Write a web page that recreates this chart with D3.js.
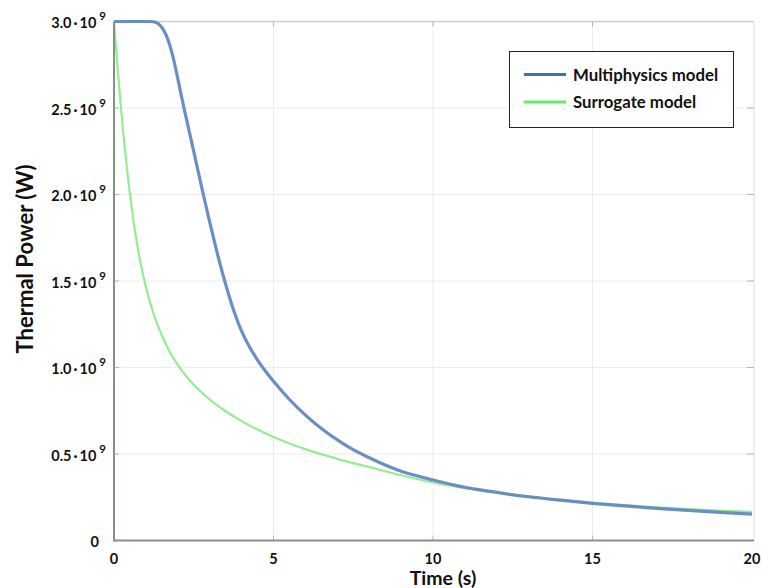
<!DOCTYPE html>
<html>
<head>
<meta charset="utf-8">
<script src="https://cdn.jsdelivr.net/npm/d3@7/dist/d3.min.js"></script>
<style>
  html, body { margin: 0; padding: 0; background: #fff; }
  svg { display: block; }
  text { font-family: Lato, "Open Sans", "Liberation Sans", sans-serif; font-weight: 700; fill: #111; }
</style>
</head>
<body>
<svg id="chart" width="761" height="588"></svg>
<script>
// Thermal power (W) over time (s) for the two models
const multiTime  = [0, 1.0, 1.15, 1.3, 1.4, 1.5, 1.6, 1.7, 1.8, 1.9, 2.0, 2.1, 2.2, 2.4, 2.6, 2.8, 3.0, 3.2, 3.4, 3.6, 3.8, 4.0, 4.25, 4.5, 4.75, 5.0, 5.5, 6.0, 6.5, 7.0, 7.5, 8.0, 9.0, 10, 11, 12, 13, 14, 15, 16, 17, 18, 19, 20];
const multiPower = [3.0e9, 3.0e9, 3.0e9, 2.996e9, 2.985e9, 2.965e9, 2.935e9, 2.89e9, 2.83e9, 2.755e9, 2.67e9, 2.58e9, 2.495e9, 2.33e9, 2.165e9, 2.0e9, 1.84e9, 1.688e9, 1.547e9, 1.418e9, 1.305e9, 1.21e9, 1.118e9, 1.043e9, 0.978e9, 0.92e9, 0.815e9, 0.725e9, 0.648e9, 0.582e9, 0.525e9, 0.478e9, 0.40e9, 0.35e9, 0.308e9, 0.278e9, 0.253e9, 0.233e9, 0.215e9, 0.2e9, 0.186e9, 0.174e9, 0.163e9, 0.153e9];

const surrTime  = [0, 0.1, 0.2, 0.3, 0.4, 0.5, 0.6, 0.7, 0.8, 0.9, 1.0, 1.25, 1.5, 1.75, 2.0, 2.5, 3.0, 3.5, 4.0, 4.5, 5.0, 5.5, 6.0, 6.5, 7.0, 7.5, 8.0, 9.0, 10, 11, 12, 13, 14, 15, 16, 17, 18, 19, 20];
const surrPower = [3.0e9, 2.76e9, 2.54e9, 2.34e9, 2.16e9, 2.0e9, 1.86e9, 1.74e9, 1.635e9, 1.545e9, 1.465e9, 1.305e9, 1.185e9, 1.09e9, 1.015e9, 0.9e9, 0.815e9, 0.747e9, 0.69e9, 0.641e9, 0.598e9, 0.561e9, 0.528e9, 0.499e9, 0.472e9, 0.447e9, 0.424e9, 0.377e9, 0.335e9, 0.302e9, 0.276e9, 0.254e9, 0.235e9, 0.218e9, 0.204e9, 0.192e9, 0.182e9, 0.173e9, 0.165e9];

const xTicks = [0, 5, 10, 15, 20];
const yTicks = [0, 0.5e9, 1.0e9, 1.5e9, 2.0e9, 2.5e9, 3.0e9];

const seriesNames  = ["Multiphysics model", "Surrogate model"];
const seriesColors = ["#6289c0", "#94ec94"];
const legendColors = ["#3b74ae", "#5ff05f"];

const svg = d3.select("#chart");
const plotLeft = 114, plotRight = 752, plotTop = 21.5, plotBottom = 540.5;

const x = d3.scaleLinear().domain([0, 20]).range([plotLeft, plotRight]);
const y = d3.scaleLinear().domain([0, 3.0e9]).range([plotBottom, plotTop]);

svg.append("rect").attr("width", 761).attr("height", 588).attr("fill", "#fff");

// grid
const grid = svg.append("g");
grid.selectAll(".gx").data(xTicks.slice(1, -1)).join("line")
  .attr("x1", d => x(d)).attr("x2", d => x(d))
  .attr("y1", plotTop).attr("y2", plotBottom)
  .attr("stroke", "#ececec").attr("stroke-width", 1);
grid.selectAll(".gy").data(yTicks.slice(1, -1)).join("line")
  .attr("x1", plotLeft).attr("x2", plotRight + 2)
  .attr("y1", d => y(d)).attr("y2", d => y(d))
  .attr("stroke", "#ececec").attr("stroke-width", 1);

// frame: top and right borders
svg.append("line").attr("x1", plotLeft).attr("x2", plotRight + 2).attr("y1", plotTop).attr("y2", plotTop)
  .attr("stroke", "#cfcfcf").attr("stroke-width", 1.5);
svg.append("line").attr("x1", plotRight + 2).attr("x2", plotRight + 2).attr("y1", plotTop).attr("y2", plotBottom)
  .attr("stroke", "#dedede").attr("stroke-width", 1);

// inner tick marks
const tk = svg.append("g").attr("stroke", "#b5b5b5").attr("stroke-width", 1);
tk.selectAll(".tb").data(xTicks.slice(1, -1)).join("line")
  .attr("x1", d => x(d)).attr("x2", d => x(d)).attr("y1", plotBottom).attr("y2", plotBottom - 5);
tk.selectAll(".tt").data(xTicks.slice(1, -1)).join("line")
  .attr("x1", d => x(d)).attr("x2", d => x(d)).attr("y1", plotTop).attr("y2", plotTop + 5);
tk.selectAll(".tl").data(yTicks.slice(1, -1)).join("line")
  .attr("x1", plotLeft).attr("x2", plotLeft + 5).attr("y1", d => y(d)).attr("y2", d => y(d));
tk.selectAll(".tr").data(yTicks.slice(1, -1)).join("line")
  .attr("x1", plotRight + 2).attr("x2", plotRight - 5).attr("y1", d => y(d)).attr("y2", d => y(d));

// curves
const multi = multiTime.map((t, i) => [t, multiPower[i]]);
const surr = surrTime.map((t, i) => [t, surrPower[i]]);
const line = d3.line().x(d => x(d[0])).y(d => y(d[1])).curve(d3.curveMonotoneX);

svg.append("path").datum(surr).attr("d", line)
  .attr("fill", "none").attr("stroke", seriesColors[1]).attr("stroke-width", 2.2);
svg.append("path").datum(multi).attr("d", line)
  .attr("fill", "none").attr("stroke", seriesColors[0]).attr("stroke-width", 3.2).attr("stroke-opacity", 0.95);

// axis lines
svg.append("line").attr("x1", plotLeft).attr("x2", plotLeft).attr("y1", plotTop).attr("y2", plotBottom + 1)
  .attr("stroke", "#7f957f").attr("stroke-width", 2);
svg.append("line").attr("x1", plotLeft).attr("x2", plotRight + 2).attr("y1", plotBottom).attr("y2", plotBottom)
  .attr("stroke", "#8c8c8c").attr("stroke-width", 2);

// x tick labels
svg.selectAll(".xl").data(xTicks).join("text")
  .attr("x", d => x(d)).attr("y", plotBottom + 23)
  .attr("text-anchor", "middle").attr("font-size", 14.5).text(d => d);

// y tick labels in power-of-ten notation
const yl = svg.selectAll(".yl").data(yTicks).join("text")
  .attr("x", d => d === 0 ? 99 : 106)
  .attr("y", d => y(d) + 6.5)
  .attr("text-anchor", "end").attr("font-size", 14.5);
yl.each(function(d) {
  const t = d3.select(this);
  if (d === 0) { t.text("0"); return; }
  t.append("tspan").text((d / 1e9).toFixed(1));
  t.append("tspan").attr("dx", 2).text("\u00B7");
  t.append("tspan").attr("dx", 2).text("10");
  t.append("tspan").attr("dx", 3).attr("dy", -8).attr("font-size", 11.5).text("9");
});

// axis titles
svg.append("text").attr("x", 443).attr("y", 585).attr("text-anchor", "middle")
  .attr("font-size", 19.5).text("Time (s)");
svg.append("text").attr("transform", "translate(33,259) rotate(-90)")
  .attr("text-anchor", "middle").attr("font-size", 22).text("Thermal Power (W)");

// legend
const lg = svg.append("g");
lg.append("rect").attr("x", 509.5).attr("y", 51.5).attr("width", 224).attr("height", 76)
  .attr("fill", "#fff").attr("stroke", "#222").attr("stroke-width", 1);
seriesNames.forEach((name, i) => {
  const ly = 74.5 + i * 27.5;
  lg.append("line").attr("x1", 524).attr("x2", 566).attr("y1", ly).attr("y2", ly)
    .attr("stroke", legendColors[i]).attr("stroke-width", 3);
  lg.append("text").attr("x", 573).attr("y", ly + 6).attr("font-size", 16.8).text(name);
});
</script>
</body>
</html>
